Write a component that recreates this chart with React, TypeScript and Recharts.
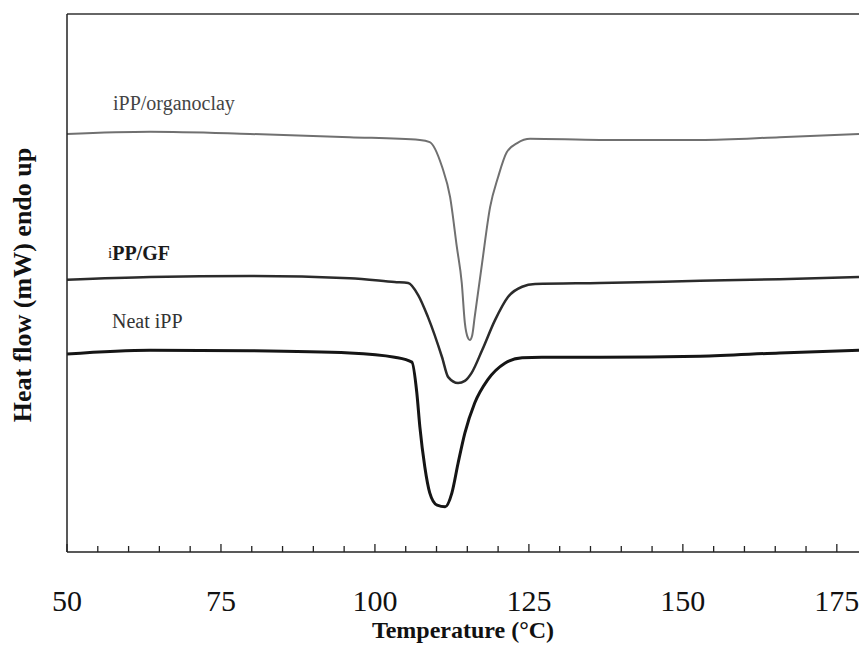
import React from 'react';
import { LineChart, Line, XAxis, YAxis, ReferenceLine } from 'recharts';

// temperature (°C) and heat flow (arbitrary units, endo up)
const organoclayT = [50, 63.5, 79.7, 95.9, 107.3, 108.9, 110.9, 112.2, 113.3, 114.1, 114.6, 115.1, 115.4, 115.8, 116.2, 117.4, 118.7, 120.0, 121.4, 123.1, 125.2, 136.5, 152.8, 165.7, 178.6];
const organoclayQ = [77.7, 78.1, 77.7, 77.1, 76.6, 76.2, 71.6, 66.0, 56.7, 50.0, 42.6, 39.8, 39.4, 40.3, 43.7, 53.7, 64.1, 69.7, 74.3, 76.0, 76.8, 76.6, 76.6, 77.1, 77.7];

const gfT = [50, 63.5, 79.7, 95.9, 103.2, 105.4, 107.0, 108.6, 110.9, 111.9, 113.5, 114.6, 115.7, 117.4, 119.5, 121.6, 123.9, 126.0, 136.5, 152.8, 165.7, 178.6];
const gfQ = [50.6, 51.1, 51.3, 50.9, 50.2, 50.0, 47.8, 43.7, 36.2, 32.5, 31.4, 31.8, 33.3, 37.5, 43.1, 47.4, 49.3, 49.8, 50.0, 50.4, 50.7, 51.1];

const neatT = [50, 63.5, 79.7, 95.9, 103.2, 106.0, 106.8, 107.3, 108.1, 108.9, 110.1, 111.4, 112.5, 113.5, 114.6, 116.2, 118.3, 121.1, 123.9, 127.1, 136.5, 152.8, 165.7, 178.6];
const neatQ = [36.8, 37.5, 37.4, 37.0, 36.2, 35.3, 29.6, 23.2, 15.8, 11.0, 8.7, 8.4, 11.0, 16.5, 22.1, 27.7, 32.0, 35.1, 36.1, 36.2, 36.2, 36.4, 37.0, 37.5];

const xTicks = [50, 55, 60, 65, 70, 75, 80, 85, 90, 95, 100, 105, 110, 115, 120, 125, 130, 135, 140, 145, 150, 155, 160, 165, 170, 175];
const labelledTicks = [50, 75, 100, 125, 150, 175];

const toRows = (t: number[], q: number[]) => t.map((v, i) => ({ t: v, q: q[i] }));

const organoclay = toRows(organoclayT, organoclayQ);
const gf = toRows(gfT, gfQ);
const neat = toRows(neatT, neatQ);

const serif = '"Liberation Serif", "DejaVu Serif", serif';

const TempTick = (props: any) => {
  const { x, y, payload } = props;
  const major = labelledTicks.includes(payload.value);
  return (
    <g>
      <line x1={x} x2={x} y1={y} y2={y - (major ? 8 : 6)} stroke="#222" strokeWidth={1.3} />
      {major && (
        <text x={x} y={y + 59} textAnchor="middle" fontSize={30} fontFamily={serif} fill="#111">
          {payload.value}
        </text>
      )}
    </g>
  );
};

const curveLabel: React.CSSProperties = {
  position: 'absolute',
  fontFamily: serif,
  fontSize: 20,
  lineHeight: '20px',
  whiteSpace: 'nowrap',
};

export default function App() {
  return (
    <div style={{ position: 'absolute', left: 0, top: 0, width: 859, height: 645, background: '#fff', fontFamily: serif }}>
      <LineChart width={859} height={645} margin={{ top: 14, right: 0, left: 0, bottom: 0 }}>
        <XAxis
          type="number"
          dataKey="t"
          domain={[50, 178.6]}
          ticks={xTicks}
          interval={0}
          height={93}
          tickLine={false}
          tickSize={0}
          tickMargin={0}
          tick={<TempTick />}
          axisLine={{ stroke: '#222', strokeWidth: 1.5 }}
          allowDataOverflow
          label={{ value: 'Temperature (°C)', position: 'insideBottom', offset: 7, fontSize: 24, fontWeight: 'bold', fontFamily: serif, fill: '#111' }}
        />
        <YAxis
          type="number"
          domain={[0, 100]}
          width={67}
          tick={false}
          tickLine={false}
          axisLine={{ stroke: '#222', strokeWidth: 1.5 }}
          label={{ value: 'Heat flow (mW) endo up', angle: -90, position: 'insideLeft', offset: 22, dy: 2, fontSize: 26, fontWeight: 'bold', fontFamily: serif, fill: '#111', textAnchor: 'middle' }}
        />
        <ReferenceLine y={100} stroke="#333" strokeWidth={1.3} />
        <Line data={organoclay} dataKey="q" type="monotone" stroke="#707070" strokeWidth={2} dot={false} isAnimationActive={false} />
        <Line data={gf} dataKey="q" type="monotone" stroke="#2b2b2b" strokeWidth={2.5} dot={false} isAnimationActive={false} />
        <Line data={neat} dataKey="q" type="monotone" stroke="#151515" strokeWidth={3} dot={false} isAnimationActive={false} />
      </LineChart>
      <div style={{ ...curveLabel, left: 113, top: 93, color: '#444' }}>iPP/organoclay</div>
      <div style={{ ...curveLabel, left: 108, top: 243, color: '#1a1a1a' }}>
        <span style={{ fontSize: 15, verticalAlign: 'top' }}>i</span>
        <span style={{ fontWeight: 'bold' }}>PP/GF</span>
      </div>
      <div style={{ ...curveLabel, left: 112, top: 311, color: '#333' }}>Neat iPP</div>
    </div>
  );
}
